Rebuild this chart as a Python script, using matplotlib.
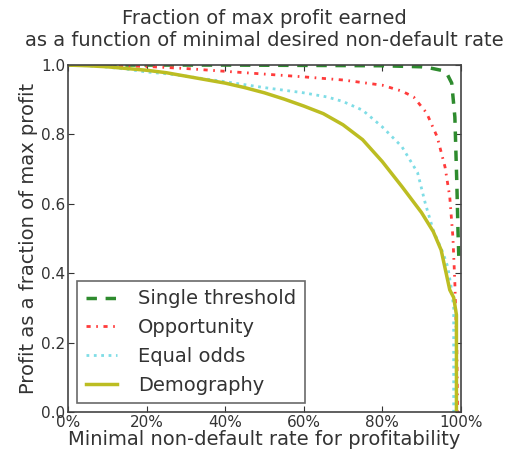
import matplotlib
matplotlib.use("Agg")
import matplotlib.pyplot as plt
from matplotlib.ticker import FuncFormatter

# curves (x = minimal non-default rate, y = profit fraction)
single_x = [0.0, 0.2, 0.4, 0.6, 0.8, 0.9, 0.92, 0.95, 0.965, 0.977, 0.985, 0.99, 0.993, 0.995]
single_y = [1.0, 1.0, 1.0, 0.999, 0.998, 0.995, 0.992, 0.985, 0.975, 0.948, 0.85, 0.66, 0.52, 0.45]

opp_x = [0.0, 0.1, 0.2, 0.3, 0.4, 0.5, 0.6, 0.7, 0.8, 0.85, 0.88, 0.913, 0.94, 0.96, 0.972, 0.98, 0.985, 0.99, 0.992]
opp_y = [1.0, 0.999, 0.996, 0.99, 0.982, 0.974, 0.966, 0.957, 0.942, 0.925, 0.908, 0.862, 0.793, 0.706, 0.62, 0.504, 0.372, 0.18, 0.0]

odds_x = [0.0, 0.05, 0.1, 0.15, 0.2, 0.25, 0.3, 0.4, 0.5, 0.6, 0.66, 0.7, 0.75, 0.8, 0.85, 0.89, 0.91, 0.93, 0.955, 0.967, 0.977, 0.982, 0.982]
odds_y = [1.0, 0.998, 0.994, 0.988, 0.98, 0.975, 0.968, 0.952, 0.935, 0.92, 0.908, 0.895, 0.87, 0.822, 0.765, 0.69, 0.60, 0.524, 0.458, 0.418, 0.35, 0.30, 0.0]

demo_x = [0.0, 0.05, 0.1, 0.15, 0.2, 0.25, 0.3, 0.35, 0.4, 0.45, 0.5, 0.55, 0.6, 0.65, 0.7, 0.75, 0.8, 0.85, 0.9, 0.93, 0.95, 0.972, 0.982, 0.989, 0.989]
demo_y = [1.0, 0.998, 0.995, 0.99, 0.985, 0.978, 0.968, 0.958, 0.948, 0.935, 0.92, 0.902, 0.882, 0.86, 0.828, 0.785, 0.722, 0.65, 0.575, 0.52, 0.467, 0.352, 0.33, 0.28, 0.0]

labels = ["Single threshold", "Opportunity", "Equal odds", "Demography"]
x_ticks = [0.0, 0.2, 0.4, 0.6, 0.8, 1.0]
y_ticks = [0.0, 0.2, 0.4, 0.6, 0.8, 1.0]

txt = "#333333"
fig = plt.figure(figsize=(5.08, 4.55), dpi=100)
ax = fig.add_axes([0.134, 0.0945, 0.773, 0.7625])

ax.plot(single_x, single_y, color="#2e8b2e", linestyle="--", linewidth=2.5, dashes=(3, 2.5), label=labels[0])
ax.plot(opp_x, opp_y, color="#ff3b3b", linestyle="-.", linewidth=2, dashes=(1.5, 2, 0.6, 2), label=labels[1])
ax.plot(odds_x, odds_y, color="#7fdde6", linestyle=":", linewidth=2, label=labels[2])
ax.plot(demo_x, demo_y, color="#bcbd22", linestyle="-", linewidth=2.5, label=labels[3])

ax.set_xlim(0, 1.0)
ax.set_ylim(0, 1.0)
ax.set_xticks(x_ticks)
ax.set_yticks(y_ticks)
ax.xaxis.set_major_formatter(FuncFormatter(lambda v, p: f"{v * 100:.0f}%"))
ax.tick_params(direction="in", top=True, right=True, length=4, labelsize=11, colors=txt, pad=2)
for s in ax.spines.values():
    s.set_color("#444444")
    s.set_linewidth(1.2)

ax.set_title("Fraction of max profit earned\nas a function of minimal desired non-default rate",
             fontsize=14, color=txt, pad=14, linespacing=1.15)
ax.set_xlabel("Minimal non-default rate for profitability", fontsize=14, color=txt, labelpad=0)
ax.set_ylabel("Profit as a fraction of max profit", fontsize=14, color=txt, labelpad=2)

leg = ax.legend(loc="lower left", fontsize=14, frameon=True, fancybox=False,
                borderpad=0.45, labelspacing=0.5, handlelength=1.6, handletextpad=1.1,
                borderaxespad=0.45)
leg.get_frame().set_edgecolor("#444444")
leg.get_frame().set_linewidth(1.2)
for t in leg.get_texts():
    t.set_color(txt)

fig.savefig("out.png", dpi=100)
